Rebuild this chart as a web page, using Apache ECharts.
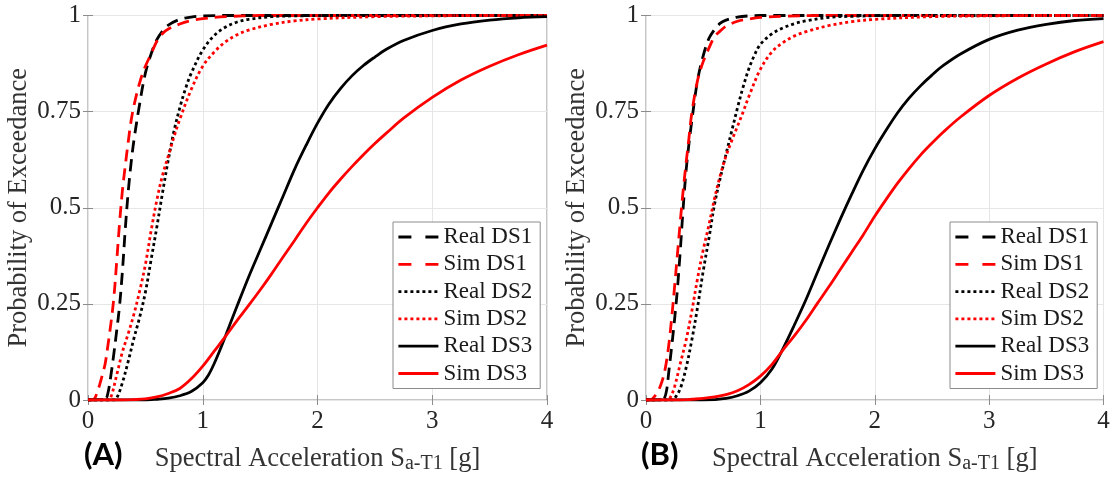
<!DOCTYPE html>
<html>
<head>
<meta charset="utf-8">
<script src="https://cdn.jsdelivr.net/npm/echarts@6/dist/echarts.min.js"></script>
<style>
html,body{margin:0;padding:0;background:#fff;}
#chart{width:1118px;height:479px;}
</style>
</head>
<body>
<div id="chart"></div>
<script>
// ---- data: [Sa (g), probability of exceedance] ----
const seriesNames = ['Real DS1', 'Sim DS1', 'Real DS2', 'Sim DS2', 'Real DS3', 'Sim DS3'];
const xTickLabels = ['0', '1', '2', '3', '4'];
const yTickLabels = ['0', '0.25', '0.5', '0.75', '1'];
const panelLabels = ['(A)', '(B)'];

// Panel (A)
const aRealDS1 = [[0,0],[0.15,0.003],[0.175,0.02],[0.2,0.065],[0.225,0.12],[0.25,0.18],[0.275,0.245],[0.3,0.335],[0.325,0.445],[0.35,0.54],[0.375,0.615],[0.4,0.675],[0.45,0.77],[0.5,0.85],[0.55,0.9],[0.6,0.937],[0.65,0.96],[0.7,0.975],[0.8,0.99],[0.9,0.996],[1.0,0.999],[1.2,1],[4,1]];
const aSimDS1 = [[0,0],[0.04,0],[0.06,0.005],[0.08,0.02],[0.1,0.038],[0.125,0.065],[0.15,0.095],[0.175,0.145],[0.2,0.2],[0.225,0.265],[0.25,0.36],[0.275,0.46],[0.3,0.545],[0.325,0.61],[0.35,0.67],[0.375,0.725],[0.4,0.765],[0.45,0.825],[0.5,0.868],[0.55,0.9],[0.6,0.933],[0.65,0.953],[0.7,0.965],[0.8,0.978],[0.9,0.987],[1.0,0.992],[1.2,0.997],[1.5,1],[4,1]];
const aRealDS2 = [[0,0],[0.22,0],[0.25,0.005],[0.3,0.045],[0.35,0.1],[0.4,0.16],[0.45,0.215],[0.5,0.28],[0.55,0.365],[0.6,0.45],[0.65,0.54],[0.7,0.625],[0.75,0.7],[0.8,0.76],[0.85,0.81],[0.9,0.85],[1.0,0.91],[1.1,0.948],[1.2,0.97],[1.3,0.983],[1.4,0.99],[1.6,0.997],[1.8,0.999],[2.2,1],[4,1]];
const aSimDS2 = [[0,0],[0.17,0],[0.2,0.008],[0.25,0.065],[0.3,0.125],[0.35,0.172],[0.4,0.223],[0.45,0.283],[0.5,0.352],[0.55,0.44],[0.6,0.52],[0.65,0.585],[0.7,0.635],[0.75,0.685],[0.8,0.73],[0.9,0.808],[1.0,0.868],[1.1,0.905],[1.2,0.932],[1.3,0.95],[1.4,0.962],[1.6,0.977],[1.8,0.986],[2.0,0.991],[2.5,0.997],[3.0,0.999],[3.5,1],[4,1]];
const aRealDS3 = [[0,0],[0.5,0],[0.6,0.002],[0.7,0.005],[0.8,0.011],[0.9,0.022],[1.0,0.045],[1.05,0.065],[1.1,0.095],[1.15,0.13],[1.2,0.168],[1.3,0.245],[1.4,0.32],[1.5,0.39],[1.6,0.46],[1.7,0.53],[1.8,0.6],[1.9,0.662],[2.0,0.72],[2.1,0.77],[2.2,0.81],[2.3,0.843],[2.4,0.87],[2.5,0.892],[2.6,0.912],[2.75,0.935],[3.0,0.961],[3.25,0.978],[3.5,0.988],[3.75,0.994],[4,0.997]];
const aSimDS3 = [[0,0],[0.3,0],[0.4,0.001],[0.5,0.003],[0.6,0.008],[0.7,0.017],[0.8,0.03],[0.9,0.055],[1.0,0.088],[1.1,0.127],[1.2,0.166],[1.3,0.207],[1.4,0.246],[1.5,0.286],[1.6,0.328],[1.7,0.372],[1.8,0.415],[1.9,0.459],[2.0,0.5],[2.1,0.539],[2.2,0.574],[2.3,0.607],[2.4,0.638],[2.5,0.667],[2.6,0.694],[2.75,0.733],[3.0,0.787],[3.25,0.832],[3.5,0.868],[3.75,0.898],[4,0.923]];

// Panel (B)
const bRealDS1 = [[0,0],[0.14,0],[0.16,0.004],[0.18,0.025],[0.2,0.075],[0.225,0.14],[0.25,0.21],[0.275,0.29],[0.3,0.39],[0.325,0.5],[0.35,0.595],[0.375,0.665],[0.4,0.725],[0.45,0.83],[0.5,0.895],[0.55,0.94],[0.6,0.964],[0.65,0.98],[0.7,0.988],[0.8,0.996],[0.9,0.999],[1.0,1],[4,1]];
const bSimDS1 = [[0,0],[0.04,0],[0.06,0.004],[0.1,0.02],[0.125,0.036],[0.15,0.058],[0.175,0.093],[0.2,0.145],[0.225,0.215],[0.25,0.295],[0.275,0.38],[0.3,0.465],[0.325,0.545],[0.35,0.615],[0.375,0.68],[0.4,0.745],[0.45,0.83],[0.5,0.88],[0.55,0.915],[0.6,0.945],[0.65,0.96],[0.7,0.972],[0.8,0.985],[0.9,0.991],[1.0,0.995],[1.2,0.998],[1.5,1],[4,1]];
const bRealDS2 = [[0,0],[0.23,0],[0.25,0.004],[0.3,0.03],[0.35,0.083],[0.4,0.155],[0.45,0.24],[0.5,0.335],[0.55,0.42],[0.6,0.51],[0.65,0.578],[0.7,0.64],[0.75,0.7],[0.8,0.76],[0.85,0.815],[0.9,0.862],[0.95,0.898],[1.0,0.925],[1.1,0.952],[1.2,0.968],[1.3,0.979],[1.4,0.986],[1.6,0.995],[1.8,0.998],[2.2,1],[4,1]];
const bSimDS2 = [[0,0],[0.18,0],[0.21,0.005],[0.25,0.035],[0.3,0.095],[0.35,0.155],[0.4,0.23],[0.45,0.315],[0.5,0.39],[0.55,0.455],[0.6,0.525],[0.65,0.585],[0.7,0.635],[0.75,0.675],[0.8,0.712],[0.85,0.75],[0.9,0.79],[1.0,0.86],[1.1,0.905],[1.2,0.93],[1.3,0.947],[1.4,0.958],[1.6,0.974],[1.8,0.984],[2.0,0.99],[2.5,0.997],[3.0,0.999],[3.5,1],[4,1]];
const bRealDS3 = [[0,0],[0.5,0],[0.6,0.001],[0.7,0.004],[0.8,0.011],[0.9,0.023],[1.0,0.045],[1.1,0.08],[1.2,0.135],[1.3,0.197],[1.4,0.262],[1.5,0.333],[1.6,0.403],[1.7,0.471],[1.8,0.536],[1.9,0.598],[2.0,0.653],[2.1,0.702],[2.2,0.747],[2.3,0.785],[2.4,0.817],[2.5,0.845],[2.6,0.87],[2.75,0.9],[3.0,0.938],[3.25,0.962],[3.5,0.977],[3.75,0.987],[4,0.992]];
const bSimDS3 = [[0,0],[0.3,0],[0.4,0.002],[0.5,0.004],[0.6,0.008],[0.7,0.014],[0.8,0.024],[0.9,0.04],[1.0,0.062],[1.1,0.092],[1.2,0.131],[1.3,0.168],[1.4,0.208],[1.5,0.252],[1.6,0.295],[1.7,0.34],[1.8,0.385],[1.9,0.43],[2.0,0.478],[2.1,0.522],[2.2,0.564],[2.3,0.602],[2.4,0.637],[2.5,0.668],[2.6,0.697],[2.75,0.736],[3.0,0.792],[3.25,0.837],[3.5,0.874],[3.75,0.906],[4,0.932]];

const panelData = [
  [aRealDS1, aSimDS1, aRealDS2, aSimDS2, aRealDS3, aSimDS3],
  [bRealDS1, bSimDS1, bRealDS2, bSimDS2, bRealDS3, bSimDS3]
];

// ---- styling ----
const SERIF = 'Liberation Serif';
const LEGEND_FONT = "'Liberation Serif', 'DejaVu Serif', serif";
const TXT = '#262626';
const styles = [
  {color:'#000000', type:[12,7], legendType:[13,14]},
  {color:'#ff0000', type:[12,7], legendType:[13,14]},
  {color:'#000000', type:[3,3], legendType:[3,3]},
  {color:'#ff0000', type:[3,3], legendType:[3,3]},
  {color:'#000000', type:'solid', legendType:'solid'},
  {color:'#ff0000', type:'solid', legendType:'solid'}
];
const grids = [
  {left:88, top:15.5, width:459, height:384.5},
  {left:646, top:15.5, width:457.5, height:384.5}
];
const legendPos = [{left:393, top:222}, {left:950, top:222}];

const option = {
  animation:false,
  backgroundColor:'#ffffff',
  textStyle:{fontFamily:SERIF},
  grid: grids.map(g => Object.assign({show:true, borderColor:'#8c8c8c', borderWidth:1, backgroundColor:'#fff', containLabel:false}, g)),
  xAxis: [], yAxis: [], series: [], legend: [],
  graphic: []
};

const xName = '{m|Spectral Acceleration S}{s|a-T1}{m| [g]}';
const nameRich = {
  m:{fontFamily:SERIF, fontSize:26.5, color:'#333333', verticalAlign:'top', lineHeight:28},
  s:{fontFamily:SERIF, fontSize:20, color:'#333333', verticalAlign:'bottom', lineHeight:20, padding:[15,0,0,0]}
};

for (let p = 0; p < 2; p++) {
  option.xAxis.push({
    type:'value', gridIndex:p, min:0, max:4, interval:1, position:'bottom',
    axisLine:{show:false},
    axisTick:{show:true, inside:true, length:5, lineStyle:{color:'#8c8c8c'}},
    axisLabel:{fontFamily:SERIF, fontSize:25, color:TXT, margin:9,
      formatter:(v)=>xTickLabels[Math.round(v)]},
    splitLine:{show:true, lineStyle:{color:'#e6e6e6', width:1}},
    name:xName, nameLocation:'middle', nameGap:41,
    nameTextStyle:{rich:nameRich}
  });
  option.xAxis.push({
    type:'value', gridIndex:p, min:0, max:4, interval:1, position:'top',
    axisLine:{show:false}, axisLabel:{show:false}, splitLine:{show:false},
    axisTick:{show:true, inside:true, length:5, lineStyle:{color:'#8c8c8c'}}
  });
  option.yAxis.push({
    type:'value', gridIndex:p, min:0, max:1, interval:0.25, position:'left',
    axisLine:{show:false},
    axisTick:{show:true, inside:true, length:5, lineStyle:{color:'#8c8c8c'}},
    axisLabel:{fontFamily:SERIF, fontSize:25, color:TXT, margin:7,
      formatter:(v)=>yTickLabels[Math.round(v*4)]},
    splitLine:{show:true, lineStyle:{color:'#e6e6e6', width:1}},
    name:'Probability of Exceedance', nameLocation:'middle', nameGap:55,
    nameTextStyle:{fontFamily:SERIF, fontSize:26.5, color:'#333333'}
  });
  option.yAxis.push({
    type:'value', gridIndex:p, min:0, max:1, interval:0.25, position:'right',
    axisLine:{show:false}, axisLabel:{show:false}, splitLine:{show:false},
    axisTick:{show:true, inside:true, length:5, lineStyle:{color:'#8c8c8c'}}
  });

  for (let i = 0; i < 6; i++) {
    option.series.push({
      type:'line', name:seriesNames[i],
      xAxisIndex:p*2, yAxisIndex:p*2,
      data:panelData[p][i],
      showSymbol:false, symbol:'none',
      smooth:0.35,
      lineStyle:{color:styles[i].color, width:2.8, type:styles[i].type, cap:'butt'},
      itemStyle:{color:styles[i].color},
      z:2+i
    });
  }

  option.legend.push({
    show:true, orient:'vertical', left:legendPos[p].left, top:legendPos[p].top,
    data:seriesNames.map((n, i) => ({name:n, itemStyle:{opacity:0},
      lineStyle:{type:styles[i].legendType, color:styles[i].color, width:2.8},
      textStyle:{fontFamily:LEGEND_FONT, fontSize:23, color:'#1a1a1a', lineHeight:24}})),
    itemWidth:40, itemHeight:14, itemGap:3.3,
    itemStyle:{opacity:0},
    backgroundColor:'#ffffff', borderColor:'#8c8c8c', borderWidth:1, borderRadius:0,
    padding:[3,8,3,4],
    selectedMode:false,
    textStyle:{fontFamily:LEGEND_FONT, fontSize:23, color:'#1a1a1a', lineHeight:24}
  });

  option.graphic.push({
    type:'text',
    left: p === 0 ? 84 : 641,
    top: 439,
    style:{text:panelLabels[p], font:'bold 31px Lato', fill:'#000'}
  });
}

const chart = echarts.init(document.getElementById('chart'), null, {renderer:'canvas'});
chart.setOption(option);
</script>
</body>
</html>
